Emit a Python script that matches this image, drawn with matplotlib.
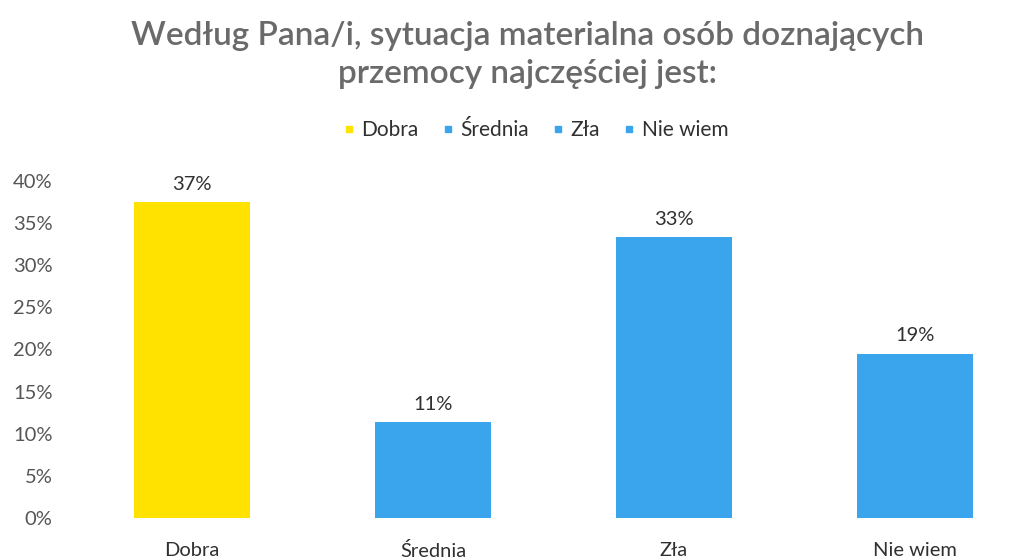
import matplotlib.pyplot as plt
from matplotlib.lines import Line2D

categories = ['Dobra', 'Średnia', 'Zła', 'Nie wiem']
values = [0.375, 0.114, 0.333, 0.195]
labels = ['37%', '11%', '33%', '19%']
colors = ['#FFE200', '#3AA5EC', '#3AA5EC', '#3AA5EC']
yticks = [0, 0.05, 0.10, 0.15, 0.20, 0.25, 0.30, 0.35, 0.40]

plt.rcParams['font.family'] = ['Lato', 'DejaVu Sans']

fig = plt.figure(figsize=(10.3, 5.58), dpi=100)
ax = fig.add_axes([72 / 1030, 40 / 558, 958 / 1030, 337 / 558])

x = range(len(categories))
ax.bar(x, values, width=0.48, color=colors)
for xi, v, lab in zip(x, values, labels):
    ax.text(xi, v + 0.011, lab, ha='center', va='bottom', fontsize=14.5, color='#303030')

ax.set_xlim(-0.498, 3.477)
ax.set_ylim(0, 0.40)
ax.set_yticks(yticks)
ax.set_yticklabels([f'{int(round(t * 100))}%' for t in yticks], fontsize=14.5, color='#555555')
ax.set_xticks(list(x))
ax.set_xticklabels(categories, fontsize=14.5, color='#303030')
ax.tick_params(axis='both', length=0)
ax.tick_params(axis='y', pad=14)
ax.tick_params(axis='x', pad=17)
for s in ax.spines.values():
    s.set_visible(False)

fig.text(0.512, 0.935, 'Według Pana/i, sytuacja materialna osób doznających', ha='center', va='center',
         fontsize=24, fontweight=600, color='#6a6a6a')
fig.text(0.512, 0.868, 'przemocy najczęściej jest:', ha='center', va='center',
         fontsize=24, fontweight=600, color='#6a6a6a')

handles = [Line2D([], [], marker='s', linestyle='none', markersize=5, color=c) for c in colors]
fig.legend(handles, categories, loc='center', bbox_to_anchor=(0.518, 0.767), ncol=4, frameon=False,
           fontsize=15, handlelength=1.0, handletextpad=0.1, columnspacing=0.9, labelcolor='#303030')

fig.savefig('out.png', dpi=100)
